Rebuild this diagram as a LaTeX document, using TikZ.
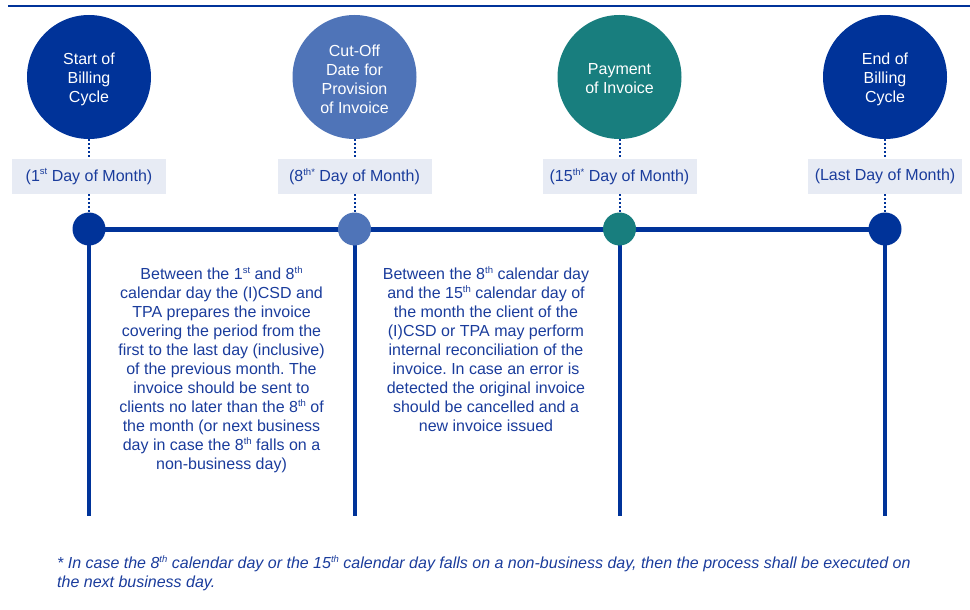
\documentclass[tikz,border=0pt]{standalone}
\usepackage{fontspec}
\setmainfont{Liberation Sans}
\frenchspacing
\newcommand\supx[1]{\raisebox{0.4em}{\fontsize{9.5}{9.5}\selectfont #1}}
\definecolor{dblue}{HTML}{003399}
\definecolor{mblue}{HTML}{4F74B8}
\definecolor{tealc}{HTML}{187E7E}
\definecolor{txtblue}{HTML}{1A3C9C}
\definecolor{labfill}{HTML}{E7EBF4}
\pgfdeclarelayer{background}
\pgfsetlayers{background,main}
\begin{document}
\begin{tikzpicture}[x=1pt,y=-1pt,
  bigc/.style={circle, minimum size=124pt, inner sep=0pt},
  ctext/.style={text=white, align=center, inner sep=0pt, yshift=-2pt,
    font=\fontsize{16}{19}\selectfont},
  smallc/.style={circle, minimum size=33pt, inner sep=0pt},
  lab/.style={fill=labfill, minimum width=154pt, minimum height=35pt, inner sep=0pt,
    text=txtblue, font=\fontsize{16}{19}\selectfont},
  dots/.style={dblue, line width=2pt, dotted},
  mainline/.style={dblue, line width=5pt},
  vline/.style={dblue, line width=4pt},
  body/.style={text=txtblue, align=center, inner sep=0pt, font=\fontsize{16}{19}\selectfont},
  foot/.style={text=txtblue, align=left, inner sep=0pt, font=\fontsize{16}{19}\selectfont\itshape}
]
\useasboundingbox (0,0) rectangle (970,610);
\coordinate (rl) at (8,5.7);
\coordinate (rr) at (970,5.7);
\draw[dblue, line width=2pt] (rl) -- (rr);

\node[bigc, fill=dblue] (c1) at (89,77) {};
\node[bigc, fill=mblue] (c2) at (354.5,77) {};
\node[bigc, fill=tealc] (c3) at (619.5,77) {};
\node[bigc, fill=dblue] (c4) at (885,77) {};
\node[ctext] (c1t) at (c1) {Start of\\Billing\\Cycle};
\node[ctext] (c2t) at (c2) {Cut-Off\\Date for\\Provision\\of Invoice};
\node[ctext] (c3t) at (c3) {Payment\\of Invoice};
\node[ctext] (c4t) at (c4) {End of\\Billing\\Cycle};

\node[lab] (l1) at (89,176.5) {(1\supx{st} Day of Month)};
\node[lab] (l2) at (354.5,176.5) {(8\supx{th*} Day of Month)};
\node[lab] (l3) at (619.5,176.5) {(15\supx{th*} Day of Month)};
\node[lab] (l4) at (885,176.5) {(Last Day of Month)};

\node[smallc, fill=dblue] (s1) at (89,229) {};
\node[smallc, fill=mblue] (s2) at (354.5,229) {};
\node[smallc, fill=tealc] (s3) at (619.5,229) {};
\node[smallc, fill=dblue] (s4) at (885,229) {};

\coordinate (e1) at (89,516);
\coordinate (e2) at (354.5,516);
\coordinate (e3) at (619.5,516);
\coordinate (e4) at (885,516);

\begin{pgfonlayer}{background}
  \draw[mainline] (s1.center) -- (s4.center);
  \foreach \i in {1,2,3,4} {
    \draw[vline] (s\i.center) -- (e\i);
    \draw[dots] (c\i.south) -- (l\i.north);
    \draw[dots] (l\i.south) -- (s\i.north);
  }
\end{pgfonlayer}

\node[body, anchor=north] (t1) at (221.5,266) {Between the 1\supx{st} and 8\supx{th}\\calendar day the (I)CSD and\\TPA prepares the invoice\\covering the period from the\\first to the last day (inclusive)\\of the previous month. The\\invoice should be sent to\\clients no later than the 8\supx{th} of\\the month (or next business\\day in case the 8\supx{th} falls on a\\non-business day)};

\node[body, anchor=north] (t2) at (486,266) {Between the 8\supx{th} calendar day\\and the 15\supx{th} calendar day of\\the month the client of the\\(I)CSD or TPA may perform\\internal reconciliation of the\\invoice. In case an error is\\detected the original invoice\\should be cancelled and a\\new invoice issued};

\node[foot, anchor=north west] (fn) at (57,555) {* In case the 8\supx{th} calendar day or the 15\supx{th} calendar day falls on a non-business day, then the process shall be executed on\\the next business day.};
\end{tikzpicture}
\end{document}
